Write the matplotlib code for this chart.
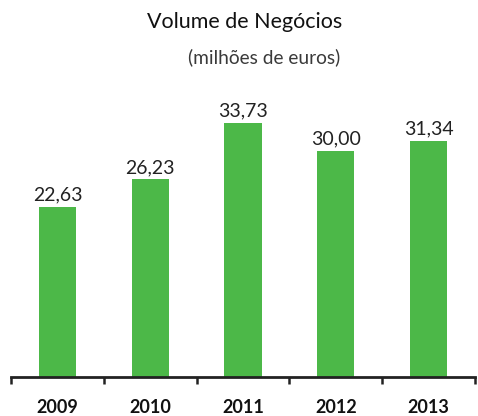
import matplotlib
matplotlib.use("Agg")
import matplotlib.pyplot as plt

years = ["2009", "2010", "2011", "2012", "2013"]
values = [22.63, 26.23, 33.73, 30.00, 31.34]
value_labels = ["22,63", "26,23", "33,73", "30,00", "31,34"]
title = "Volume de Negócios"
subtitle = "(milhões de euros)"

W, H = 478, 416
fig = plt.figure(figsize=(W / 100, H / 100), dpi=100)
ax = fig.add_axes([11 / W, 1 - 377 / H, 464 / W, 357 / H])

green = "#4cb848"
x = list(range(len(years)))
ax.bar(x, values, width=0.4, color=green, zorder=2)
ax.set_xlim(-0.5, len(years) - 0.5)
ax.set_ylim(0, 357 / 7.53)

fam = ["Lato", "DejaVu Sans"]
for xi, v, lab in zip(x, values, value_labels):
    ax.annotate(lab, (xi, v), xytext=(0, 2.5), textcoords="offset points",
                ha="center", va="bottom", fontsize=14, family=fam,
                fontweight="normal", color="#222222")

for s in ["top", "right", "left"]:
    ax.spines[s].set_visible(False)
ax.spines["bottom"].set_linewidth(2)
ax.spines["bottom"].set_color("#222222")
ax.set_yticks([])
ax.set_xticks([i - 0.5 for i in range(len(years) + 1)])
ax.set_xticklabels([])
ax.set_xticks(x, minor=True)
ax.set_xticklabels(years, minor=True, fontsize=13, fontweight="bold",
                   family=fam, color="#111111")
ax.tick_params(axis="x", which="major", length=5, width=1.8, color="#222222", direction="out")
ax.tick_params(axis="x", which="minor", length=0, pad=16)

fig.text(245 / W, 1 - 22 / H, title, ha="center", va="center", fontsize=15.5,
         family=fam, color="#111111")
fig.text(264 / W, 1 - 57 / H, subtitle, ha="center", va="center", fontsize=13.8,
         family=fam, fontweight="normal", color="#3a3a3a")

fig.savefig("out.png", dpi=100)
